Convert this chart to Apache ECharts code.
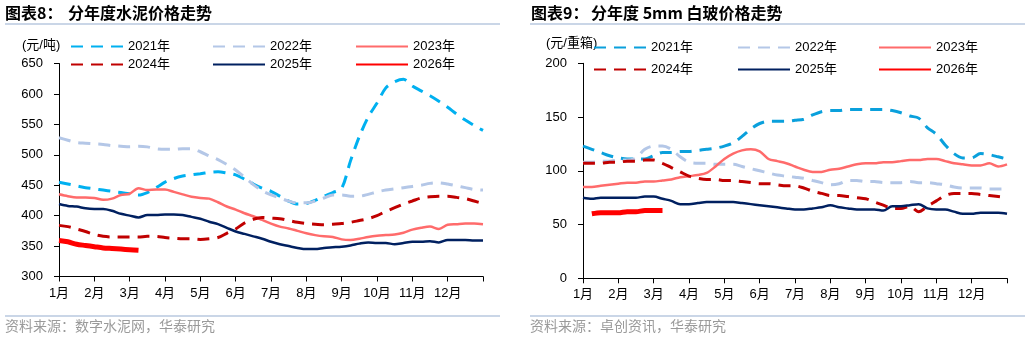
<!DOCTYPE html>
<html><head><meta charset="utf-8">
<script src="https://cdn.jsdelivr.net/npm/echarts@6/dist/echarts.min.js"></script>
<style>html,body{margin:0;padding:0;background:#fff}#c{width:1030px;height:340px}</style>
</head><body><div id="c"></div>
<script>
// ---------- data ----------
const months = ['1月','2月','3月','4月','5月','6月','7月','8月','9月','10月','11月','12月'];
const years = ['2021年','2022年','2023年','2024年','2025年','2026年'];
// x positions: 4 points per month (quarter-month), 49 points spanning Jan 1 .. Dec 31
const xCats = [];
for (let i = 0; i <= 48; i++) xCats.push(months[Math.min(11, Math.floor(i / 4))] + '|' + (i % 4 + 1));

// Cement price (元/吨)
const cement2021 = [455,452,449,446,444,442,440,438,436,434,438,446,455,461,465,467,469,471,472,470,467,460,452,445,440,432,424,419,420,425,432,438,445,490,530,562,585,610,620,624,613,605,597,588,578,567,557,548,540];
const cement2022 = [528,524,520,519,518,517,515,514,513,514,513,510,509,509,510,510,505,498,492,484,475,463,451,441,434,429,424,421,421,424,429,434,434,432,432,435,439,442,444,446,448,450,453,454,452,449,446,443,442];
const cement2023 = [435,432,430,430,429,426,428,434,436,445,442,443,443,439,435,431,429,428,422,415,410,404,399,393,387,382,379,375,371,368,366,365,361,360,362,365,367,368,369,372,377,380,382,378,385,386,387,387,386];
const cement2024 = [384,382,378,374,369,366,365,365,365,365,366,366,364,363,362,362,361,362,364,371,378,388,394,397,396,395,392,389,387,386,385,386,387,389,392,395,400,407,413,419,424,429,431,432,432,430,428,424,420];
const cement2025 = [419,416,415,412,411,411,408,403,400,397,401,401,402,402,401,398,395,390,386,380,374,370,366,362,357,353,350,347,345,345,347,348,349,351,354,356,355,355,353,355,357,357,358,356,360,360,360,359,359];
const cement2026 = [359,357,353,351,349,347,346,345,344,343];
const cementTicks = { min: 300, max: 650, interval: 50 };

// 5mm float glass price (元/重箱)
const glass2021 = [123,120,117,114,112,111,111,111,114,117,117,118,118,119,120,121,123,126,132,139,144,146,146,146,147,148,152,155,156,156,157,157,157,157,157,156,154,151,149,140,134,124,116,112,112,116,115,113,111];
const glass2022 = [108,108,109,109,110,110,112,120,123,123,120,113,108,107,107,106,106,106,104,102,100,98,96,95,94,93,91,89,87,88,91,91,90,90,89,89,89,90,89,89,88,87,85,84,84,84,83,83,83];
const glass2023 = [85,85,86,87,88,89,89,90,90,91,92,94,95,96,98,104,111,116,119,120,118,111,109,107,104,101,99,99,101,102,104,106,107,107,108,108,109,110,110,111,111,109,107,106,105,105,107,104,106];
const glass2024 = [107,107,107,108,108,109,109,110,110,107,103,99,95,93,92,92,91,91,90,89,88,88,87,86,86,84,81,79,77,77,76,75,74,71,68,65,65,67,62,67,72,77,79,79,79,78,77,76,75];
const glass2025 = [75,74,75,75,75,75,75,76,76,74,72,69,69,70,71,71,71,71,70,69,68,67,66,65,64,64,65,66,68,66,65,64,64,64,63,67,67,68,69,65,64,64,62,60,60,61,61,61,60];
const glass2026 = [null,60,61,61,61,62,62,63,63,63];
const glassTicks = { min: 0, max: 200, interval: 50 };

// ---------- styles ----------
const FONT = "'Liberation Sans', Arial, 'Noto Sans CJK SC', sans-serif";
const CJK = "'Noto Sans CJK SC', sans-serif";
const DASH = [12, 8];
const styleL = [
  { color: '#00b0f0', type: DASH, width: 3 },
  { color: '#b4c7e7', type: DASH, width: 3 },
  { color: '#ff6b6b', type: 'solid', width: 2.5 },
  { color: '#c00000', type: DASH, width: 3 },
  { color: '#002060', type: 'solid', width: 2.5 },
  { color: '#ff0000', type: 'solid', width: 5 }
];
const styleR = styleL.map((s, i) => i === 0 ? Object.assign({}, s, { color: '#0aa0dc' }) : s);

function mkSeries(prefix, arrs, styles, axisIdx) {
  return arrs.map((d, i) => ({
    name: prefix + years[i], type: 'line', data: d,
    xAxisIndex: axisIdx, yAxisIndex: axisIdx,
    showSymbol: false, symbol: 'none', smooth: 0.3,
    lineStyle: { color: styles[i].color, type: styles[i].type, width: styles[i].width, cap: 'butt' },
    itemStyle: { color: styles[i].color },
    z: 2 + i, animation: false
  }));
}

function mkLegends(prefix, xs, ys) {
  const out = [];
  years.forEach((y, i) => {
    out.push({
      data: [prefix + y], left: xs[i % 3], top: ys[Math.floor(i / 3)] - 7,
      itemWidth: 52, itemHeight: 14, padding: 0, selectedMode: false,
      itemStyle: { opacity: 0 },
      formatter: n => n.slice(1),
      textStyle: { fontSize: 13, color: '#000', fontFamily: FONT }
    });
  });
  return out;
}

function xAxisCfg(gridIndex) {
  return {
    type: 'category', gridIndex, data: xCats, boundaryGap: false,
    axisLine: { lineStyle: { color: '#000', width: 1 } },
    axisTick: { length: 5, interval: (i) => i % 4 === 0, lineStyle: { color: '#000' } },
    axisLabel: { interval: (i) => i % 4 === 0 && i < 48, formatter: v => v.split('|')[0],
      color: '#000', fontSize: 13, fontFamily: FONT, margin: 10 },
    splitLine: { show: false }
  };
}
function yAxisCfg(gridIndex, t) {
  return {
    type: 'value', gridIndex, min: t.min, max: t.max, interval: t.interval,
    axisLine: { show: true, lineStyle: { color: '#000', width: 1 } },
    axisTick: { show: true, length: 5, lineStyle: { color: '#000' } },
    axisLabel: { color: '#000', fontSize: 13, fontFamily: FONT, margin: 16 },
    splitLine: { show: false }
  };
}

const chart = echarts.init(document.getElementById('c'), null, { renderer: 'canvas' });
const lineCol = '#b8c9df';
chart.setOption({
  animation: false,
  backgroundColor: '#fff',
  grid: [
    { left: 59, top: 63.5, width: 424, height: 213 },
    { left: 583, top: 63.3, width: 424, height: 215 }
  ],
  xAxis: [xAxisCfg(0), xAxisCfg(1)],
  yAxis: [yAxisCfg(0, cementTicks), yAxisCfg(1, glassTicks)],
  legend: mkLegends('L', [70, 212, 355], [47, 65]).concat(mkLegends('R', [593, 737, 878], [48, 70])),
  series: mkSeries('L', [cement2021, cement2022, cement2023, cement2024, cement2025, cement2026], styleL, 0)
    .concat(mkSeries('R', [glass2021, glass2022, glass2023, glass2024, glass2025, glass2026], styleR, 1)),
  graphic: [
    { type: 'text', left: 5, top: 5, style: { text: '图表8：', font: 'bold 16px ' + CJK, fill: '#000' } },
    { type: 'text', left: 68, top: 5, style: { text: '分年度水泥价格走势', font: 'bold 16px ' + CJK, fill: '#000' } },
    { type: 'text', left: 531, top: 5, style: { text: '图表9：', font: 'bold 16px ' + CJK, fill: '#000' } },
    { type: 'text', left: 591, top: 5, style: { text: '分年度 5mm 白玻价格走势', font: 'bold 16px ' + CJK, fill: '#000' } },
    { type: 'line', shape: { x1: 5, y1: 24, x2: 500, y2: 24 }, style: { stroke: lineCol, lineWidth: 1.5 } },
    { type: 'line', shape: { x1: 530, y1: 24, x2: 1025, y2: 24 }, style: { stroke: lineCol, lineWidth: 1.5 } },
    { type: 'line', shape: { x1: 5, y1: 316, x2: 500, y2: 316 }, style: { stroke: lineCol, lineWidth: 1.5 } },
    { type: 'line', shape: { x1: 530, y1: 316, x2: 1025, y2: 316 }, style: { stroke: lineCol, lineWidth: 1.5 } },
    { type: 'text', left: 22, top: 39, style: { text: '(元/吨)', font: '13px ' + FONT, fill: '#000' } },
    { type: 'text', left: 546, top: 37, style: { text: '(元/重箱)', font: '13px ' + FONT, fill: '#000' } },
    { type: 'text', left: 5, top: 319, style: { text: '资料来源：数字水泥网，华泰研究', font: '14px ' + CJK, fill: '#9a9a9a' } },
    { type: 'text', left: 530, top: 319, style: { text: '资料来源：卓创资讯，华泰研究', font: '14px ' + CJK, fill: '#9a9a9a' } }
  ]
});
</script></body></html>
